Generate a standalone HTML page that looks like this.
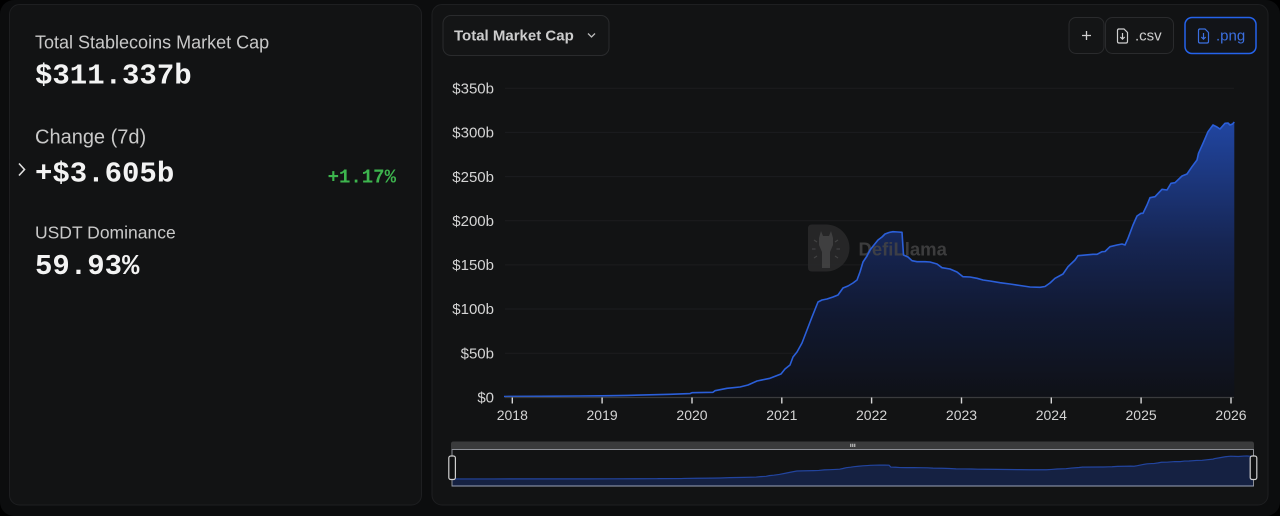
<!DOCTYPE html>
<html><head><meta charset="utf-8">
<style>
html,body{margin:0;padding:0;background:#000;}
body{width:1280px;height:516px;overflow:hidden;}
svg{display:block;}
</style></head>
<body>
<svg width="1280" height="516" viewBox="0 0 1280 516" xmlns="http://www.w3.org/2000/svg">
<defs>
<linearGradient id="ag" gradientUnits="userSpaceOnUse" x1="0" y1="120" x2="0" y2="397">
<stop offset="0" stop-color="#2146a2"/>
<stop offset="0.45" stop-color="#162552"/>
<stop offset="0.7" stop-color="#111932"/>
<stop offset="1" stop-color="#0f1117"/>
</linearGradient>
</defs>
<rect x="0" y="0" width="1280" height="516" rx="14" fill="#0c0d0e"/>
<!-- left panel -->
<rect x="9.5" y="4.5" width="412" height="500.5" rx="10" fill="#121314" stroke="#1e1f21"/>
<g font-family="'Liberation Sans', sans-serif">
<text x="35" y="48.3" font-size="18" fill="#c9c9c9">Total Stablecoins Market Cap</text>
<text x="35" y="143.5" font-size="20" fill="#c9c9c9">Change (7d)</text>
<text x="35" y="238.3" font-size="17.5" fill="#c9c9c9">USDT Dominance</text>
</g>
<g font-family="'Liberation Mono', monospace" font-weight="bold">
<text x="35" y="83.5" font-size="29" fill="#f3f3f3">$311.337b</text>
<text x="35" y="181.7" font-size="29" fill="#f3f3f3">+$3.605b</text>
<text x="35" y="274" font-size="29" fill="#f3f3f3">59.93%</text>
<text x="396" y="182.5" font-size="19" fill="#3db54e" text-anchor="end">+1.17%</text>
</g>
<polyline points="19,163.5 24.5,169.5 19,175.5" fill="none" stroke="#e0e0e0" stroke-width="1.6"/>

<!-- right panel -->
<rect x="432" y="4.5" width="836" height="500.5" rx="10" fill="#121314" stroke="#1e1f21"/>
<rect x="443" y="15.5" width="166" height="40" rx="8" fill="#141516" stroke="#2a2b2d"/>
<text x="454" y="40.5" font-family="'Liberation Sans', sans-serif" font-size="15" font-weight="bold" fill="#cdcdcd">Total Market Cap</text>
<polyline points="588,33.5 591.5,37 595,33.5" fill="none" stroke="#bbbbbb" stroke-width="1.3"/>

<rect x="1069" y="17.5" width="35" height="36" rx="7" fill="#141516" stroke="#2a2b2d"/>
<path d="M1082,35.5 H1091 M1086.5,31 V40" stroke="#d0d0d0" stroke-width="1.3"/>
<rect x="1105.5" y="17.5" width="68" height="36" rx="7" fill="#141516" stroke="#2a2b2d"/>
<path d="M1118,29 H1124 L1127.5,32.5 V41.5 Q1127.5,43 1126,43 H1119 Q1117.5,43 1117.5,41.5 V30.5 Q1117.5,29 1119,29 Z M1122.5,33 V39 M1120.3,37 L1122.5,39.2 L1124.7,37" fill="none" stroke="#cfcfcf" stroke-width="1.2"/>
<text x="1135" y="40.5" font-family="'Liberation Sans', sans-serif" font-size="15" fill="#cfcfcf">.csv</text>
<rect x="1185" y="17.5" width="71" height="36" rx="7" fill="#121418" stroke="#2563eb" stroke-width="1.5"/>
<path d="M1199,29 H1205 L1208.5,32.5 V41.5 Q1208.5,43 1207,43 H1200 Q1198.5,43 1198.5,41.5 V30.5 Q1198.5,29 1200,29 Z M1203.5,33 V39 M1201.3,37 L1203.5,39.2 L1205.7,37" fill="none" stroke="#3b6fe0" stroke-width="1.2"/>
<text x="1216" y="40.5" font-family="'Liberation Sans', sans-serif" font-size="15" fill="#3b6fe0">.png</text>

<!-- grid -->
<g stroke="#1c1d1f" stroke-width="1">
<line x1="505" y1="88.3" x2="1234" y2="88.3"/>
<line x1="505" y1="132.4" x2="1234" y2="132.4"/>
<line x1="505" y1="176.6" x2="1234" y2="176.6"/>
<line x1="505" y1="220.7" x2="1234" y2="220.7"/>
<line x1="505" y1="264.9" x2="1234" y2="264.9"/>
<line x1="505" y1="309" x2="1234" y2="309"/>
<line x1="505" y1="353.2" x2="1234" y2="353.2"/>
</g>
<g font-family="'Liberation Sans', sans-serif" font-size="15" fill="#d4d4d4" text-anchor="end">
<text x="494" y="93.5">$350b</text>
<text x="494" y="137.6">$300b</text>
<text x="494" y="181.8">$250b</text>
<text x="494" y="225.9">$200b</text>
<text x="494" y="270.1">$150b</text>
<text x="494" y="314.2">$100b</text>
<text x="494" y="358.4">$50b</text>
<text x="494" y="402.5">$0</text>
</g>

<!-- main area -->
<path id="area" fill="url(#ag)" d="M504,397.3 L504,396.5 540,396.3 580,396 602,395.8 627,395.4 650,394.8 670,394.3 690,393.6 692,392.7 713,392.3 715,390.7 727,388.3 740,387 748,385 757,381 770,378.3 781,374 785,369 790,365 793,357 797,352 802,343 807,330 812,317 818,302 822,300 827,299 833,297 838,295 843,288 848,286 853,283 857,280 860,272 863,262 867,256 870,250 874,245 878,240 882,237 885,234 889,232.5 893,231.7 898,232 902,232.3 903.5,255 908,257 912,260.7 917,261.7 925,261.7 930,262 937,264 942,267.7 950,269 957,272 963,276.7 970,277 977,278.3 983,280 990,281 1000,282.7 1010,284 1020,285.5 1030,287 1040,287.3 1045,286.5 1050,283 1055,278.3 1063,274 1068,266.7 1075,260 1078,255.7 1093,254.3 1097,254.3 1102,251.7 1105,251.5 1110,246.7 1117,245 1122,244 1125,245 1128,238.3 1133,225 1137,216 1141,213.3 1143,213.3 1147,205 1150,197.7 1155,196.7 1162,189.3 1167,190 1171,183.3 1175,182.7 1182,176 1187,174 1192,166.7 1197,160 1198.5,153.3 1203,143.3 1208,131.7 1213,125 1217,127 1220,129 1225,123.3 1228,123 1230,125 1232.5,124 1234.3,122 L1234.3,397.3 Z"/>

<!-- watermark -->
<g opacity="0.85">
<path d="M812,224.5 H826 A23.5,23.5 0 0 1 849.5,248 A23.5,23.5 0 0 1 826,271.5 H812 Q808,271.5 808,267.5 V228.5 Q808,224.5 812,224.5 Z" fill="#2a2a2b"/>
<path d="M821,231 L823,236 H829 L831,231 L833,238 V245 L830,252 V268 H822 V252 L819,245 V238 Z" fill="#474748"/>
<path d="M814,240 L817,242 M812,249 H815.5 M814,258 L817,256 M838,240 L835,242 M840,249 H836.5 M838,258 L835,256" stroke="#4a4a4b" stroke-width="1.2"/>
<text x="858.5" y="255.7" font-family="'Liberation Sans', sans-serif" font-weight="bold" font-size="18.5" fill="#444445">DefiLlama</text>
</g>

<!-- main line -->
<polyline fill="none" stroke="#2b5fd9" stroke-width="1.6" stroke-linejoin="round" points="504,396.5 540,396.3 580,396 602,395.8 627,395.4 650,394.8 670,394.3 690,393.6 692,392.7 713,392.3 715,390.7 727,388.3 740,387 748,385 757,381 770,378.3 781,374 785,369 790,365 793,357 797,352 802,343 807,330 812,317 818,302 822,300 827,299 833,297 838,295 843,288 848,286 853,283 857,280 860,272 863,262 867,256 870,250 874,245 878,240 882,237 885,234 889,232.5 893,231.7 898,232 902,232.3 903.5,255 908,257 912,260.7 917,261.7 925,261.7 930,262 937,264 942,267.7 950,269 957,272 963,276.7 970,277 977,278.3 983,280 990,281 1000,282.7 1010,284 1020,285.5 1030,287 1040,287.3 1045,286.5 1050,283 1055,278.3 1063,274 1068,266.7 1075,260 1078,255.7 1093,254.3 1097,254.3 1102,251.7 1105,251.5 1110,246.7 1117,245 1122,244 1125,245 1128,238.3 1133,225 1137,216 1141,213.3 1143,213.3 1147,205 1150,197.7 1155,196.7 1162,189.3 1167,190 1171,183.3 1175,182.7 1182,176 1187,174 1192,166.7 1197,160 1198.5,153.3 1203,143.3 1208,131.7 1213,125 1217,127 1220,129 1225,123.3 1228,123 1230,125 1232.5,124 1234.3,122"/>

<!-- x axis -->
<line x1="505" y1="397.5" x2="1234" y2="397.5" stroke="#3a3b3d" stroke-width="1.2"/>
<g stroke="#d8d8d8" stroke-width="1.4">
<line x1="512.3" y1="397.5" x2="512.3" y2="403.5"/>
<line x1="602.1" y1="397.5" x2="602.1" y2="403.5"/>
<line x1="692" y1="397.5" x2="692" y2="403.5"/>
<line x1="781.8" y1="397.5" x2="781.8" y2="403.5"/>
<line x1="871.6" y1="397.5" x2="871.6" y2="403.5"/>
<line x1="961.5" y1="397.5" x2="961.5" y2="403.5"/>
<line x1="1051.3" y1="397.5" x2="1051.3" y2="403.5"/>
<line x1="1141.1" y1="397.5" x2="1141.1" y2="403.5"/>
<line x1="1231" y1="397.5" x2="1231" y2="403.5"/>
</g>
<g font-family="'Liberation Sans', sans-serif" font-size="14" fill="#d4d4d4" text-anchor="middle">
<text x="512.3" y="420">2018</text>
<text x="602.1" y="420">2019</text>
<text x="692" y="420">2020</text>
<text x="781.8" y="420">2021</text>
<text x="871.6" y="420">2022</text>
<text x="961.5" y="420">2023</text>
<text x="1051.3" y="420">2024</text>
<text x="1141.1" y="420">2025</text>
<text x="1231" y="420">2026</text>
</g>

<!-- brush -->
<path d="M451,449 V444 Q451,441.5 453.5,441.5 H1251.5 Q1254,441.5 1254,444 V449 Z" fill="#3a3b3c"/>
<path d="M850.8,443.8 V447 M852.8,443.8 V447 M854.8,443.8 V447" stroke="#e8e8e8" stroke-width="0.9"/>
<g transform="matrix(1.0982,0,0,0.08376,-101.49,445.72)">
<path fill="#152142" d="M504,481 L504,396.5 540,396.3 580,396 602,395.8 627,395.4 650,394.8 670,394.3 690,393.6 692,392.7 713,392.3 715,390.7 727,388.3 740,387 748,385 757,381 770,378.3 781,374 785,369 790,365 793,357 797,352 802,343 807,330 812,317 818,302 822,300 827,299 833,297 838,295 843,288 848,286 853,283 857,280 860,272 863,262 867,256 870,250 874,245 878,240 882,237 885,234 889,232.5 893,231.7 898,232 902,232.3 903.5,255 908,257 912,260.7 917,261.7 925,261.7 930,262 937,264 942,267.7 950,269 957,272 963,276.7 970,277 977,278.3 983,280 990,281 1000,282.7 1010,284 1020,285.5 1030,287 1040,287.3 1045,286.5 1050,283 1055,278.3 1063,274 1068,266.7 1075,260 1078,255.7 1093,254.3 1097,254.3 1102,251.7 1105,251.5 1110,246.7 1117,245 1122,244 1125,245 1128,238.3 1133,225 1137,216 1141,213.3 1143,213.3 1147,205 1150,197.7 1155,196.7 1162,189.3 1167,190 1171,183.3 1175,182.7 1182,176 1187,174 1192,166.7 1197,160 1198.5,153.3 1203,143.3 1208,131.7 1213,125 1217,127 1220,129 1225,123.3 1228,123 1230,125 1232.5,124 1234.3,122 L1234.3,481 Z"/>
<polyline fill="none" stroke="#22449e" stroke-width="1.2" vector-effect="non-scaling-stroke" points="504,396.5 540,396.3 580,396 602,395.8 627,395.4 650,394.8 670,394.3 690,393.6 692,392.7 713,392.3 715,390.7 727,388.3 740,387 748,385 757,381 770,378.3 781,374 785,369 790,365 793,357 797,352 802,343 807,330 812,317 818,302 822,300 827,299 833,297 838,295 843,288 848,286 853,283 857,280 860,272 863,262 867,256 870,250 874,245 878,240 882,237 885,234 889,232.5 893,231.7 898,232 902,232.3 903.5,255 908,257 912,260.7 917,261.7 925,261.7 930,262 937,264 942,267.7 950,269 957,272 963,276.7 970,277 977,278.3 983,280 990,281 1000,282.7 1010,284 1020,285.5 1030,287 1040,287.3 1045,286.5 1050,283 1055,278.3 1063,274 1068,266.7 1075,260 1078,255.7 1093,254.3 1097,254.3 1102,251.7 1105,251.5 1110,246.7 1117,245 1122,244 1125,245 1128,238.3 1133,225 1137,216 1141,213.3 1143,213.3 1147,205 1150,197.7 1155,196.7 1162,189.3 1167,190 1171,183.3 1175,182.7 1182,176 1187,174 1192,166.7 1197,160 1198.5,153.3 1203,143.3 1208,131.7 1213,125 1217,127 1220,129 1225,123.3 1228,123 1230,125 1232.5,124 1234.3,122"/>
</g>
<rect x="452" y="449.5" width="801.5" height="36.5" fill="none" stroke="#8c8f96" stroke-width="1"/>
<line x1="452" y1="486" x2="1253.5" y2="486" stroke="#9aa3b8" stroke-width="1"/>
<rect x="448.8" y="456" width="6.6" height="23.5" rx="2" fill="#101112" stroke="#cfcfcf" stroke-width="1.2"/>
<rect x="1250.2" y="456" width="6.6" height="23.5" rx="2" fill="#101112" stroke="#cfcfcf" stroke-width="1.2"/>
</svg>
</body></html>
